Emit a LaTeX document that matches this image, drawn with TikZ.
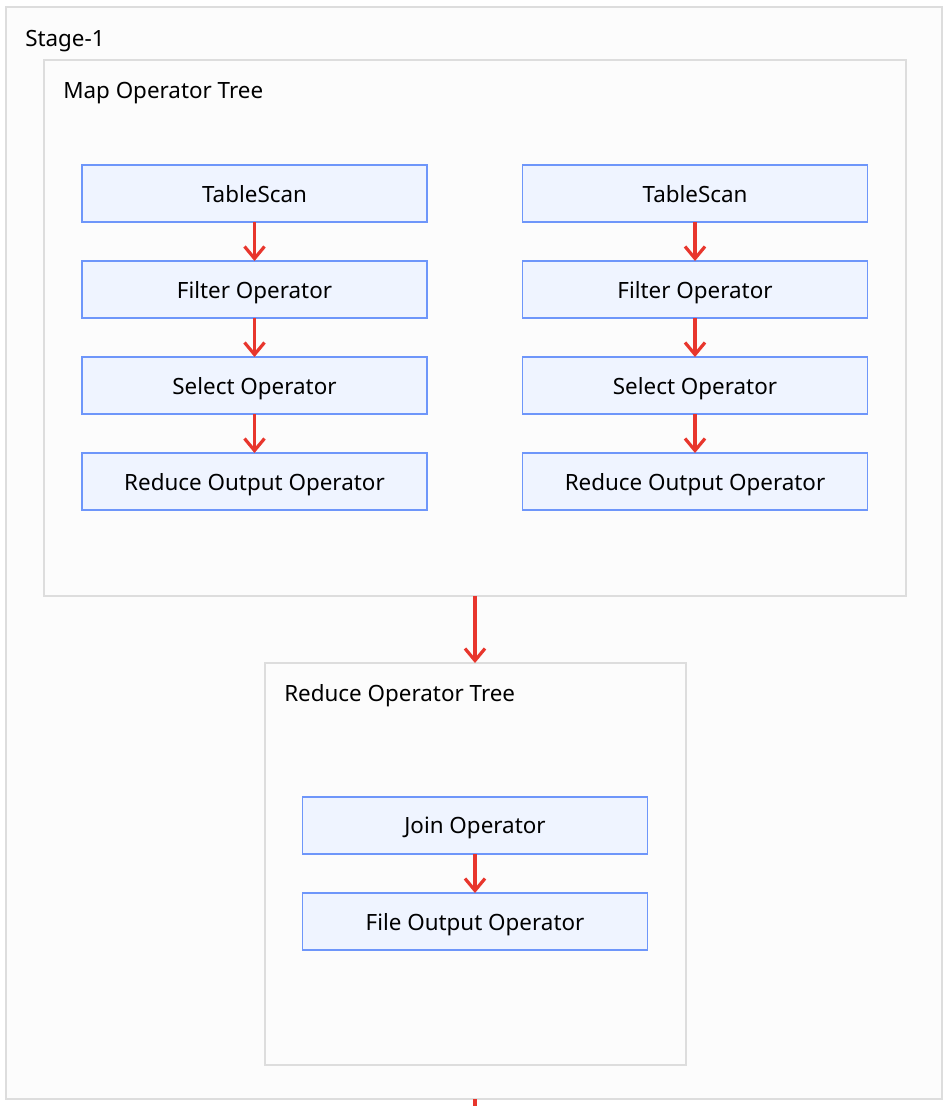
\documentclass[tikz,border=0pt]{standalone}
\usepackage{fontspec}
\setmainfont{Noto Sans}
\usepackage{tikz}
\usetikzlibrary{arrows.meta,positioning,calc}

\definecolor{flowred}{HTML}{E8362D}
\definecolor{opline}{HTML}{6E96FA}
\definecolor{opfill}{HTML}{EFF4FF}
\definecolor{treeline}{HTML}{DDDDDD}
\definecolor{treefill}{HTML}{FCFCFC}

\begin{document}
\begin{tikzpicture}[x=0.75pt, y=-0.75pt, node distance=29.25pt,
    >={Straight Barb[length=9pt,width=15pt]}]
\tikzset{
tree/.style     = {draw=treeline, fill=treefill, line width=1.5pt, shape=rectangle, inner sep=0pt, outer sep=0pt},
title/.style    = {anchor=west, inner sep=0pt, font=\fontsize{16.8}{20}\selectfont},
block/.style    = {draw=opline, fill=opfill, line width=1.2pt, shape=rectangle, inner sep=0pt, outer sep=0pt,
                   minimum width=258.75pt, minimum height=42.75pt, text depth=0pt,
                   font=\fontsize{16.8}{20}\selectfont},
flow/.style     = {draw=flowred, line width=2.4pt},
coord/.style    = {coordinate},
}
    \useasboundingbox (0,0) rectangle (952,1106);

    % Containers
    \node [tree, minimum width=702pt, minimum height=819pt]       (stage)  at (474,553)    {};
    \node [tree, minimum width=646.5pt, minimum height=402pt]     (map)    at (475,328)    {};
    \node [tree, minimum width=315.75pt, minimum height=301.5pt]  (reduce) at (475,864)    {};
    \node [title] (stage_title)  at (25,41)  {Stage-1};
    \node [title] (map_title)    at (63,93)  {Map Operator Tree};
    \node [title] (reduce_title) at (284,696) {Reduce Operator Tree};

    % Left map nodes
    \node [block]                     (l_scan)   at (254.5,193.5) {TableScan};
    \node [block, below=of l_scan]    (l_filter) {Filter Operator};
    \node [block, below=of l_filter]  (l_select) {Select Operator};
    \node [block, below=of l_select]  (l_rs)     {Reduce Output Operator};

    % Right map nodes
    \node [block]                     (r_scan)   at (695,193.5) {TableScan};
    \node [block, below=of r_scan]    (r_filter) {Filter Operator};
    \node [block, below=of r_filter]  (r_select) {Select Operator};
    \node [block, below=of r_select]  (r_rs)     {Reduce Output Operator};

    % Reduce nodes
    \node [block]                     (join)     at (475,825.5) {Join Operator};
    \node [block, below=of join]      (fs)       {File Output Operator};
    \node [coord]                     (exit)     at (475,1106) {};

    % Map edges
    \draw [flow, ->] (l_scan)   -- (l_filter);
    \draw [flow, ->] (l_filter) -- (l_select);
    \draw [flow, ->] (l_select) -- (l_rs);
    \draw [flow, ->] (r_scan)   -- (r_filter);
    \draw [flow, ->] (r_filter) -- (r_select);
    \draw [flow, ->] (r_select) -- (r_rs);

    % Stage edges
    \draw [flow, ->] (map.south)  -- (reduce.north);
    \draw [flow, ->] (join)       -- (fs);
    \draw [flow]     (stage.south -| exit) -- (exit);

\end{tikzpicture}
\end{document}
